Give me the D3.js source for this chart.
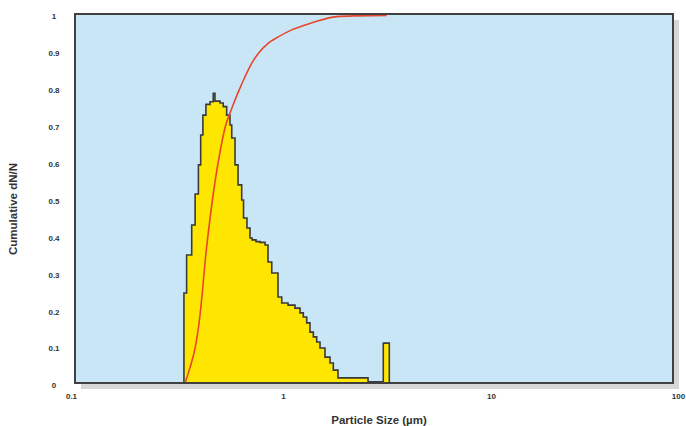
<!DOCTYPE html>
<html><head><meta charset="utf-8">
<script src="https://cdn.jsdelivr.net/npm/d3@7/dist/d3.min.js"></script>
<style>
html,body{margin:0;padding:0;background:#fff;}
svg{display:block;font-family:"Liberation Sans",Arial,sans-serif;}
</style></head>
<body>
<svg id="c" width="686" height="426"></svg>
<script>
// ---- data ----
const xTicks = [0.1, 1, 10, 100];
const xTickLabels = ["0.1", "1", "10", "100"];
const yTicks = [0, 0.1, 0.2, 0.3, 0.4, 0.5, 0.6, 0.7, 0.8, 0.9, 1];
const yTickLabels = ["0", "0.1", "0.2", "0.3", "0.4", "0.5", "0.6", "0.7", "0.8", "0.9", "1"];
const binEdges = [0.334,0.344,0.364,0.378,0.392,0.402,0.412,0.426,0.446,0.462,0.471,0.498,0.516,0.536,0.556,0.567,0.588,0.608,0.633,0.646,0.671,0.694,0.710,0.742,0.775,0.820,0.847,0.883,0.946,0.986,1.057,1.142,1.207,1.252,1.300,1.348,1.399,1.452,1.506,1.592,1.683,1.745,1.838,2.563,3.035,3.244];
const binHeights = [0.244,0.347,0.428,0.512,0.591,0.672,0.726,0.755,0.762,0.785,0.764,0.759,0.749,0.726,0.699,0.664,0.591,0.537,0.496,0.447,0.420,0.393,0.388,0.383,0.381,0.374,0.328,0.298,0.233,0.217,0.211,0.203,0.190,0.179,0.163,0.138,0.125,0.111,0.095,0.070,0.054,0.035,0.014,0.003,0.108];
const cumSize = [0.338,0.357,0.378,0.392,0.407,0.422,0.446,0.471,0.498,0.526,0.567,0.610,0.657,0.707,0.761,0.850,0.949,1.101,1.276,1.425,1.812,2.261,3.152];
const cumValue = [0,0.041,0.095,0.149,0.230,0.328,0.447,0.545,0.626,0.691,0.744,0.789,0.830,0.866,0.893,0.921,0.938,0.957,0.970,0.979,0.993,0.995,0.996];
const xTitle = "Particle Size (µm)";
const yTitle = "Cumulative dN/N";

// ---- layout ----
const L = 75, R = 673, T = 14, B = 383;
const svg = d3.select("#c");
const x = d3.scaleLog().domain([0.1, 1, 10, 100]).range([L, 283, 491, R]);
const y = d3.scaleLinear().domain([0, 1]).range([B, T]);

// shadow
svg.append("rect").attr("x", L + 6).attr("y", T + 6).attr("width", R - L).attr("height", B - T)
  .attr("fill", "#d6d6d6");
// plot background
svg.append("rect").attr("x", L).attr("y", T).attr("width", R - L).attr("height", B - T)
  .attr("fill", "#c8e6f6");

// histogram
const pts = [[binEdges[0], 0]];
binHeights.forEach((h, i) => pts.push([binEdges[i], h]));
pts.push([binEdges[binEdges.length - 1], 0]);
const area = d3.area().x(d => x(d[0])).y0(y(0)).y1(d => y(d[1])).curve(d3.curveStepAfter);
const line = d3.line().x(d => x(d[0])).y(d => y(d[1])).curve(d3.curveStepAfter);
svg.append("path").attr("d", area(pts)).attr("fill", "#ffe600");
svg.append("path").attr("d", line(pts)).attr("fill", "none").attr("stroke", "#3a3a3a").attr("stroke-width", 1.6);

// cumulative curve
const cum = cumSize.map((s, i) => [s, cumValue[i]]);
svg.append("path").attr("d", d3.line().x(d => x(d[0])).y(d => y(d[1])).curve(d3.curveMonotoneX)(cum))
  .attr("fill", "none").attr("stroke", "#e8462c").attr("stroke-width", 1.6);

// frame
svg.append("rect").attr("x", L).attr("y", T).attr("width", R - L).attr("height", B - T)
  .attr("fill", "none").attr("stroke", "#404040").attr("stroke-width", 2);

// axes
const xAxis = d3.axisBottom(x).tickValues(xTicks).tickFormat((d, i) => xTickLabels[i]).tickSize(0).tickPadding(0);
const gx = svg.append("g").attr("transform", `translate(0,${B})`).call(xAxis);
gx.select(".domain").remove();
gx.selectAll("text").attr("font-size", 8).attr("font-weight", "bold").attr("fill", "#333")
  .attr("font-family", "Liberation Sans, Arial, sans-serif")
  .attr("dy", "1.95em")
  .attr("dx", (d, i) => i === 0 ? -4 : (i === xTicks.length - 1 ? 5 : 0));

const yAxis = d3.axisLeft(y).tickValues(yTicks).tickFormat((d, i) => yTickLabels[i]).tickSize(0).tickPadding(0);
const gy = svg.append("g").attr("transform", `translate(54,0)`).call(yAxis);
gy.select(".domain").remove();
gy.selectAll("text").attr("font-size", 8).attr("font-weight", "bold").attr("fill", "#333")
  .attr("font-family", "Liberation Sans, Arial, sans-serif")
  .attr("text-anchor", "middle").attr("dy", "0.6em");

// titles
svg.append("text").attr("x", 379).attr("y", 424).attr("text-anchor", "middle")
  .attr("font-size", 11.5).attr("font-weight", "bold").attr("fill", "#333").text(xTitle);
svg.append("text").attr("transform", "translate(17,209) rotate(-90)").attr("text-anchor", "middle")
  .attr("font-size", 11.5).attr("font-weight", "bold").attr("fill", "#333").text(yTitle);
</script>
</body></html>
